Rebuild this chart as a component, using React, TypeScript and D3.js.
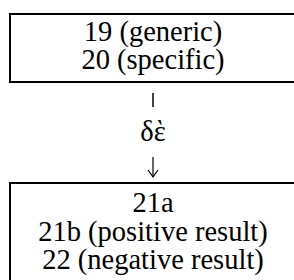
import React from 'react';
import * as d3 from 'd3';

const topLines = ['19 (generic)', '20 (specific)'];
const connector = ['|', 'δὲ', '↓'];
const bottomLines = ['21a', '21b (positive result)', '22 (negative result)'];

const W = 294;
const H = 280;

export default function App() {
  const cx = 153;
  const font = "'Liberation Serif', 'Times New Roman', serif";
  const fs = 28.5;

  // baselines for each line inside the boxes
  const yTop = d3.scaleLinear().domain([0, 1]).range([41, 69]);
  const yBot = d3.scaleLinear().domain([0, 2]).range([212, 269]);
  const yConn = d3.scaleOrdinal<string, number>().domain(connector).range([107, 141, 177]);

  const arrowTop = 157;
  const arrowBot = yConn('↓');

  return (
    <svg width={W} height={H} style={{ position: 'absolute', left: 0, top: 0 }}>
      <rect x={0} y={0} width={W} height={H} fill="#fff" />
      <rect x={10} y={14} width={320} height={68} fill="none" stroke="#000" strokeWidth={2} />
      <rect x={10} y={183} width={320} height={140} fill="none" stroke="#000" strokeWidth={2} />
      {topLines.map((t, i) => (
        <text key={t} x={cx} y={yTop(i)} textAnchor="middle" fontFamily={font} fontSize={fs} fill="#000">
          {t}
        </text>
      ))}
      <line x1={cx} x2={cx} y1={93} y2={yConn('|')} stroke="#000" strokeWidth={1.5} />
      <text x={cx} y={yConn('δὲ')} textAnchor="middle" fontFamily={font} fontSize={fs} fill="#000">
        {connector[1]}
      </text>
      {/* down arrow */}
      <line x1={cx} x2={cx} y1={arrowTop} y2={arrowBot} stroke="#000" strokeWidth={1.2} />
      <path
        d={`M${cx - 5},${arrowBot - 7} L${cx},${arrowBot} L${cx + 5},${arrowBot - 7}`}
        fill="none"
        stroke="#000"
        strokeWidth={1.2}
      />
      {bottomLines.map((t, i) => (
        <text key={t} x={cx} y={yBot(i)} textAnchor="middle" fontFamily={font} fontSize={fs} fill="#000">
          {t}
        </text>
      ))}
    </svg>
  );
}
